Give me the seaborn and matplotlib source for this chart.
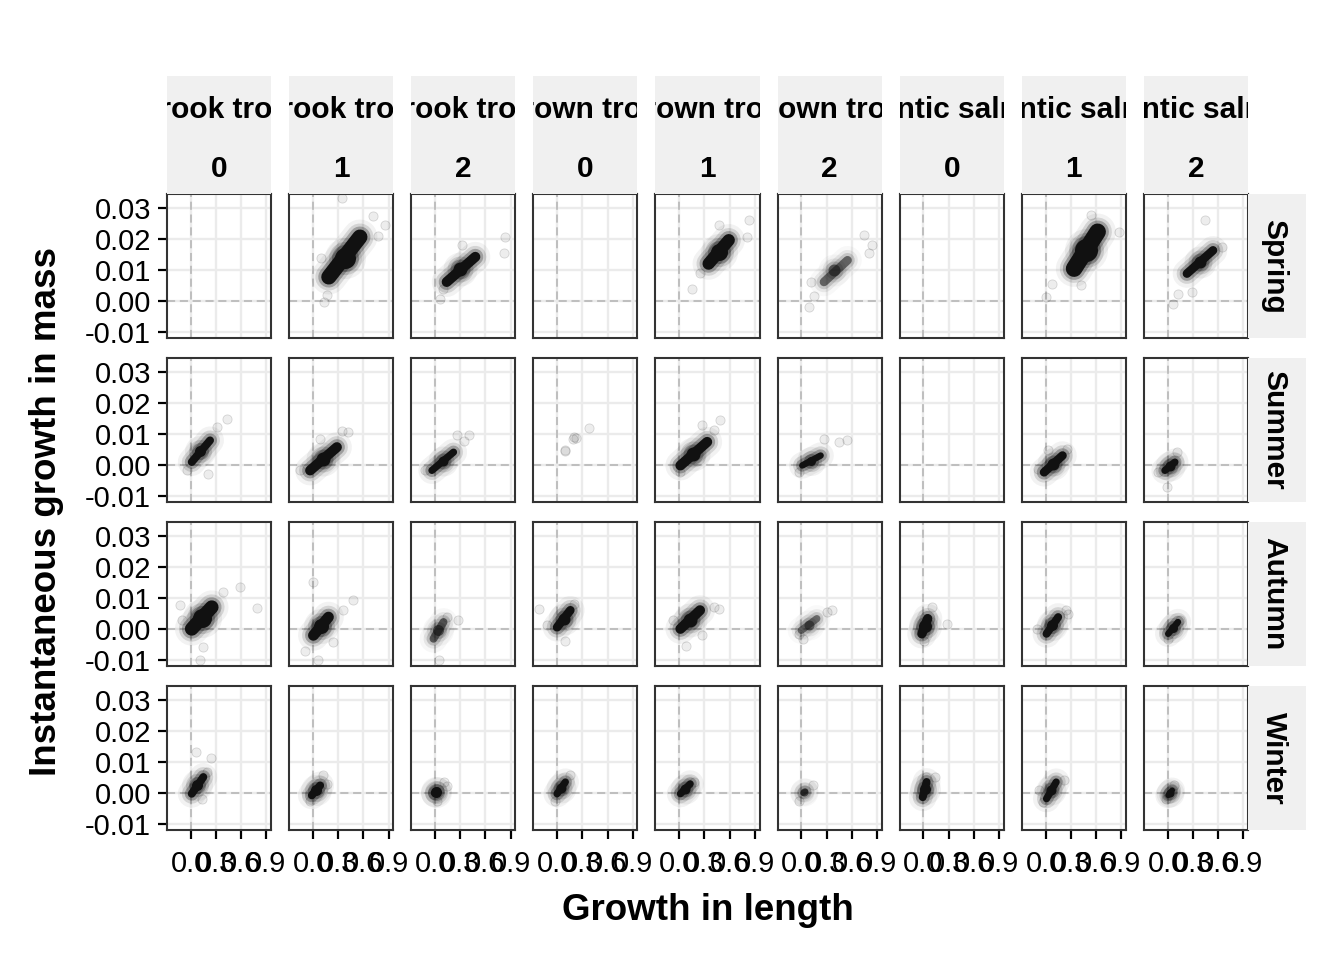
import pandas as pd
import seaborn as sns
import matplotlib
matplotlib.use("Agg")
from matplotlib import pyplot as plt

seasons = ["Spring", "Summer", "Autumn", "Winter"]
species = ["Brook trout", "Brown trout", "Atlantic salmon"]
ages = ["0", "1", "2"]

x_ticks = [0.0, 0.3, 0.6, 0.9]
x_tick_labels = ["0.0", "0.3", "0.6", "0.9"]
y_ticks = [-0.01, 0.0, 0.01, 0.02, 0.03]
y_tick_labels = ["-0.01", "0.00", "0.01", "0.02", "0.03"]

# dense ridge of every cloud (both ends), one list per column:
# brook 0,1,2 / brown 0,1,2 / salmon 0,1,2
spring_core_x = [[], [0.19, 0.56], [0.14, 0.48], [], [0.35, 0.59], [0.27, 0.55], [], [0.34, 0.62], [0.23, 0.54]]
spring_core_y = [[], [0.0078, 0.0207], [0.0062, 0.0143], [], [0.0121, 0.0197], [0.0062, 0.0132], [], [0.0105, 0.0224], [0.0089, 0.0164]]
summer_core_x = [[0.012, 0.23], [-0.032, 0.286], [-0.036, 0.221], [], [0.015, 0.333], [0.012, 0.23], [], [-0.017, 0.202], [-0.032, 0.087]]
summer_core_y = [[0.001, 0.008], [-0.0017, 0.0058], [-0.0017, 0.0042], [], [-0.0001, 0.0075], [-0.0001, 0.0031], [], [-0.0023, 0.0031], [-0.0017, 0.001]]
autumn_core_x = [[0.012, 0.25], [0.007, 0.186], [-0.017, 0.102], [0.0, 0.158], [0.015, 0.248], [0.0, 0.185], [-0.018, 0.051], [0.012, 0.151], [0.007, 0.123]]
autumn_core_y = [[0.0001, 0.0071], [-0.002, 0.0039], [-0.0031, 0.0023], [0.0006, 0.0061], [0.0001, 0.0061], [-0.0004, 0.0034], [-0.0015, 0.0034], [-0.0015, 0.0039], [-0.0015, 0.0023]]
winter_core_x = [[0.012, 0.15], [-0.012, 0.087], [0.0, 0.03], [0.0, 0.099], [0.015, 0.131], [0.02, 0.05], [-0.008, 0.038], [0.012, 0.127], [0.007, 0.054]]
winter_core_y = [[-0.0002, 0.0052], [-0.0007, 0.0025], [0.0, 0.0006], [-0.0002, 0.0036], [-0.0002, 0.003], [0.0, 0.0006], [-0.0013, 0.0036], [-0.0018, 0.0036], [-0.0007, 0.0009]]

# darkest spot of every cloud
spring_center_x = [[], [0.38], [0.30], [], [0.47], [0.39], [], [0.48], [0.38]]
spring_center_y = [[], [0.0140], [0.0105], [], [0.0160], [0.0099], [], [0.0165], [0.0128]]
summer_center_x = [[0.11], [0.12], [0.09], [], [0.17], [0.12], [], [0.09], [0.03]]
summer_center_y = [[0.0045], [0.0020], [0.0013], [], [0.0037], [0.0015], [], [0.0004], [-0.0004]]
autumn_center_x = [[0.13], [0.10], [0.04], [0.08], [0.13], [0.09], [0.015], [0.08], [0.065]]
autumn_center_y = [[0.0036], [0.0010], [-0.0004], [0.0034], [0.0031], [0.0015], [0.0010], [0.0012], [0.0004]]
winter_center_x = [[0.08], [0.04], [0.015], [0.05], [0.07], [0.035], [0.015], [0.07], [0.03]]
winter_center_y = [[0.0025], [0.0009], [0.0003], [0.0017], [0.0014], [0.0003], [0.0012], [0.0009], [0.0001]]

# scattered single fish around the ridges
spring_halo_x = [[], [0.135, 0.86, 0.35, 0.10, 0.72, 0.17, 0.78], [0.063, 0.837, 0.817, 0.32, 0.10], [],
                 [0.155, 0.83, 0.81, 0.47, 0.25], [0.09, 0.845, 0.805, 0.11, 0.745, 0.15], [],
                 [0.004, 0.083, 0.42, 0.54, 0.876], [0.067, 0.444, 0.643, 0.126, 0.286]]
spring_halo_y = [[], [-0.0003, 0.0245, 0.0332, 0.0138, 0.0274, 0.002, 0.021], [0.0008, 0.0207, 0.0154, 0.018, 0.004], [],
                 [0.004, 0.0262, 0.0207, 0.0245, 0.009], [-0.0019, 0.018, 0.0154, 0.0062, 0.0213, 0.0018], [],
                 [0.0013, 0.0056, 0.0051, 0.0278, 0.0224], [-0.0008, 0.0262, 0.0175, 0.0024, 0.0029]]
summer_halo_x = [[0.43, -0.048, 0.21, 0.31], [0.424, -0.15, 0.087, 0.35], [-0.115, 0.40, 0.26, 0.34],
                 [0.09, 0.10, 0.19, 0.20, 0.23, 0.38], [0.49, 0.27, 0.015, 0.42], [0.548, 0.27, -0.03, 0.45], [],
                 [-0.095, 0.26, 0.024], [-0.012, 0.107, -0.11]]
summer_halo_y = [[0.015, -0.0017, -0.0028, 0.0123], [0.0107, -0.0017, 0.0086, 0.011], [-0.0017, 0.0096, 0.0096, 0.0078],
                 [0.0045, 0.0050, 0.0085, 0.0090, 0.0088, 0.012], [0.0145, 0.0129, -0.0023, 0.0115], [0.008, 0.0083, -0.0023, 0.0075], [],
                 [-0.0012, 0.0053, 0.0048], [-0.0071, 0.0042, -0.0023]]
autumn_halo_x = [[0.587, 0.786, -0.127, 0.11, 0.15, 0.388, -0.107], [0.483, 0.0, -0.092, 0.067, 0.364, 0.245],
                 [0.28, 0.043, 0.143], [-0.219, -0.119, 0.099, 0.198], [0.479, 0.085, 0.27, -0.077, 0.41],
                 [0.369, 0.023, -0.024, 0.30], [0.099, 0.283, 0.006], [-0.104, 0.263, 0.242], [0.145, 0.007]]
autumn_halo_y = [[0.0136, 0.0069, 0.0077, -0.0099, -0.0058, 0.012, 0.0028], [0.0093, 0.0152, -0.0069, -0.0101, 0.0061, -0.0042],
                 [0.0028, -0.0101, 0.0039], [0.0066, 0.0012, -0.0037, 0.0082], [0.0066, -0.0053, -0.002, 0.0028, 0.0071],
                 [0.0061, -0.0031, -0.0015, 0.0055], [0.0071, 0.0018, -0.0037], [0.0001, 0.005, 0.0061], [0.0028, -0.0031]]
winter_halo_x = [[0.063, 0.238, 0.131, 0.19], [0.126, -0.032, 0.167], [0.102, 0.024, 0.143], [0.158, -0.02],
                 [0.177], [-0.024, 0.138], [0.029, 0.144], [-0.081, -0.035, 0.22], [0.077, -0.015]]
winter_halo_y = [[0.0133, 0.0115, -0.0018, 0.0068], [0.0057, -0.0024, 0.003], [0.0036, -0.0024, 0.0022], [0.0057, -0.0024],
                 [0.0036], [-0.0024, 0.0025], [0.0052, 0.0052], [0.0009, -0.0029, 0.0041], [0.0025, -0.0018]]

# thickness (px) and darkness of each cloud
core_px = {"Spring": [0, 21, 14, 0, 17, 12, 0, 23, 12],
           "Summer": [11, 14, 10, 0, 14, 9, 0, 12, 10],
           "Autumn": [19, 15, 11, 12, 14, 10, 13, 11, 9],
           "Winter": [11, 11, 11, 10, 10, 8, 11, 10, 8]}
core_alpha = {"Spring": [1, 1, 1, 1, 1, 0.55, 1, 1, 1],
              "Summer": [1] * 9,
              "Autumn": [1, 1, 0.6, 1, 1, 0.5, 1, 1, 1],
              "Winter": [1, 1, 1, 1, 1, 0.6, 1, 1, 1]}

core_x = [spring_core_x, summer_core_x, autumn_core_x, winter_core_x]
core_y = [spring_core_y, summer_core_y, autumn_core_y, winter_core_y]
center_x = [spring_center_x, summer_center_x, autumn_center_x, winter_center_x]
center_y = [spring_center_y, summer_center_y, autumn_center_y, winter_center_y]
halo_x = [spring_halo_x, summer_halo_x, autumn_halo_x, winter_halo_x]
halo_y = [spring_halo_y, summer_halo_y, autumn_halo_y, winter_halo_y]

rows = []
for s, season in enumerate(seasons):
    for p in range(9):
        for layer, lx, ly in [("core", core_x, core_y), ("center", center_x, center_y), ("halo", halo_x, halo_y)]:
            for x, y in zip(lx[s][p], ly[s][p]):
                rows.append([season, p, layer, x, y])
df = pd.DataFrame(rows, columns=["season", "panel", "layer", "x", "y"])

sns.set_theme(style="white")
plt.rcParams["font.family"] = ["Liberation Sans", "DejaVu Sans"]
plt.rcParams["text.color"] = "black"

PX = 0.72  # points per pixel at dpi 100


def draw_cloud(data, **kws):
    ax = plt.gca()
    season = data["season"].iloc[0]
    p = data["panel"].iloc[0]
    core = data[data["layer"] == "core"]
    center = data[data["layer"] == "center"]
    halo = data[data["layer"] == "halo"]
    if len(halo):
        sns.scatterplot(data=halo, x="x", y="y", ax=ax, s=44, facecolor=(0, 0, 0, 0.07),
                        edgecolor=(0, 0, 0, 0.14), linewidth=0.6, legend=False, zorder=3)
    if len(core):
        w = core_px[season][p]
        a = core_alpha[season][p]
        lw = 0.72 * w
        # soft fringe of overlapping points around the ridge
        for extra, fa in [(20, 0.05), (12, 0.12), (6, 0.26)]:
            sns.lineplot(data=core, x="x", y="y", ax=ax, sort=False, estimator=None, color="black",
                         alpha=fa * a, linewidth=(lw + extra) * PX, solid_capstyle="round", legend=False, zorder=3)
            sns.scatterplot(data=center, x="x", y="y", ax=ax, s=((w + extra) * PX) ** 2, color="black",
                            alpha=fa * a, linewidth=0, legend=False, zorder=3)
        sns.lineplot(data=core, x="x", y="y", ax=ax, sort=False, estimator=None, color="#111111",
                     alpha=a, linewidth=lw * PX, solid_capstyle="round", legend=False, zorder=4)
        sns.scatterplot(data=center, x="x", y="y", ax=ax, s=(w * PX) ** 2, color="#111111",
                        alpha=a, linewidth=0, legend=False, zorder=4)


g = sns.FacetGrid(df, row="season", col="panel", row_order=seasons, col_order=list(range(9)),
                  sharex=True, sharey=True, despine=False, height=2, aspect=0.72)
g.map_dataframe(draw_cloud)
g.set_titles("")
g.set_axis_labels("", "")

fig = g.figure
fig.set_size_inches(13.44, 9.6)
fig.subplots_adjust(left=167 / 1344, right=1248 / 1344, bottom=1 - 830 / 960, top=1 - 194 / 960,
                    wspace=18 / 104, hspace=20 / 144)

for r in range(4):
    for c in range(9):
        ax = g.axes[r, c]
        ax.set_xlim(-0.282, 0.956)
        ax.set_ylim(-0.0119, 0.0346)
        ax.set_xticks(x_ticks)
        ax.set_yticks(y_ticks)
        ax.set_xticklabels(x_tick_labels)
        ax.set_yticklabels(y_tick_labels)
        ax.set_facecolor("white")
        ax.grid(True, color="#EBEBEB", linewidth=1.7, zorder=0)
        ax.set_axisbelow(True)
        ax.axvline(0, color="#BBBBBB", linewidth=1.3, linestyle=(0, (4.5, 2.6)), zorder=1)
        ax.axhline(0, color="#BBBBBB", linewidth=1.3, linestyle=(0, (4.5, 2.6)), zorder=1)
        for sp in ax.spines.values():
            sp.set_visible(True)
            sp.set_color("#333333")
            sp.set_linewidth(1.5)
            sp.set_zorder(5)
        ax.tick_params(axis="both", which="both", labelsize=21, colors="black", width=1.6, length=6.5,
                       left=(c == 0), bottom=(r == 3), labelleft=(c == 0), labelbottom=(r == 3))
        ax.tick_params(axis="y", pad=5)
        ax.tick_params(axis="x", pad=8)

# strips on top (species / age) and on the right (season)
for c in range(9):
    pos = g.axes[0, c].get_position()
    sax = fig.add_axes([pos.x0, pos.y1, pos.width, 118 / 960])
    sax.set_facecolor("#F0F0F0")
    sax.set_xticks([])
    sax.set_yticks([])
    for sp in sax.spines.values():
        sp.set_visible(False)
    sax.text(0.5, 0.644, species[c // 3], transform=sax.transAxes, ha="center", va="baseline",
             fontsize=21.5, fontweight="bold", color="black", clip_on=True)
    sax.text(0.5, 0.144, ages[c % 3], transform=sax.transAxes, ha="center", va="baseline",
             fontsize=21.5, fontweight="bold", color="black", clip_on=True)

for r in range(4):
    pos = g.axes[r, 8].get_position()
    sax = fig.add_axes([pos.x1, pos.y0, 58 / 1344, pos.height])
    sax.set_facecolor("#F0F0F0")
    sax.set_xticks([])
    sax.set_yticks([])
    for sp in sax.spines.values():
        sp.set_visible(False)
    sax.text(0.45, 0.5, seasons[r], transform=sax.transAxes, ha="center", va="center", rotation=-90,
             fontsize=21.5, fontweight="bold", color="black", clip_on=True)

fig.text((167 + 1248) / 2 / 1344, 1 - 911 / 960, "Growth in length", ha="center", va="center",
         fontsize=26.5, fontweight="bold", color="black")
fig.text(47 / 1344, 1 - 512 / 960, "Instantaneous growth in mass", ha="center", va="center",
         rotation=90, fontsize=26.5, fontweight="bold", color="black")

fig.savefig("out.png", dpi=100, facecolor="white")
